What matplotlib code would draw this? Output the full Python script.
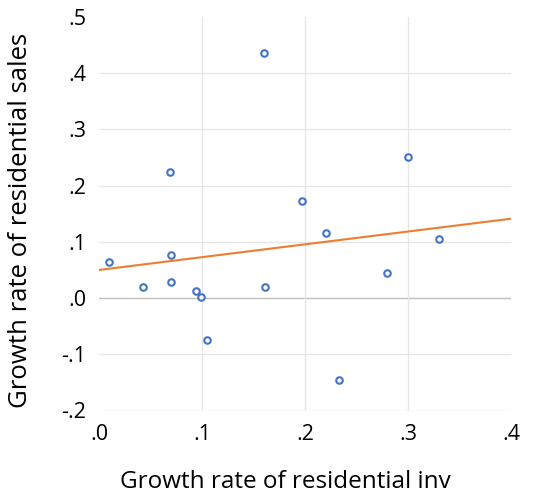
import numpy as np
import matplotlib
matplotlib.use("Agg")
import matplotlib.pyplot as plt

# Scatter data
inv_growth = [0.160, 0.069, 0.300, 0.197, 0.220, 0.330, 0.010, 0.070,
              0.043, 0.070, 0.094, 0.099, 0.105, 0.161, 0.279, 0.233]
sales_growth = [0.436, 0.224, 0.251, 0.173, 0.116, 0.105, 0.065, 0.076,
                0.019, 0.028, 0.012, 0.002, -0.074, 0.019, 0.044, -0.145]

# Fitted line (intercept, slope) as drawn
fit_intercept = 0.050
fit_slope = 0.228

x_ticks = [0.0, 0.1, 0.2, 0.3, 0.4]
x_labels = ['.0', '.1', '.2', '.3', '.4']
y_ticks = [-0.2, -0.1, 0.0, 0.1, 0.2, 0.3, 0.4, 0.5]
y_labels = ['-.2', '-.1', '.0', '.1', '.2', '.3', '.4', '.5']

plt.rcParams['font.family'] = ['Open Sans', 'DejaVu Sans']

fig = plt.figure(figsize=(5.46, 5.0), dpi=100)
ax = fig.add_axes([0.1813, 0.179, 0.755, 0.787])

# grid (no line on the outer top / right edges)
for yv in y_ticks[:-1]:
    ax.axhline(yv, color='#bfbfbf' if yv == 0 else '#e6e6e6', lw=1.0, zorder=0)
for xv in x_ticks[1:-1]:
    ax.axvline(xv, color='#e6e6e6', lw=1.0, zorder=0)

fit_x = np.array([0.0, 0.4])
ax.plot(fit_x, fit_intercept + fit_slope * fit_x, color='#ED7D31', lw=1.5, zorder=2)

ax.scatter(inv_growth, sales_growth, s=22, facecolors='white',
           edgecolors='#4472C4', linewidths=1.5, zorder=3)

ax.set_xlim(0, 0.4)
ax.set_ylim(-0.2, 0.5)
ax.set_xticks(x_ticks)
ax.set_xticklabels(x_labels)
ax.set_yticks(y_ticks)
ax.set_yticklabels(y_labels)
ax.tick_params(axis='y', length=0, labelsize=15.5, colors='#000000', pad=9)
ax.tick_params(axis='x', length=0, labelsize=15.5, colors='#000000', pad=10)
for s in ax.spines.values():
    s.set_visible(False)

ax.set_xlabel('Growth rate of residential inv', fontsize=17.5)
ax.set_ylabel('Growth rate of residential sales', fontsize=18.5)
ax.xaxis.set_label_coords(0.451, -0.152)
ax.yaxis.set_label_coords(-0.16, 0.484)

fig.savefig('out.png', dpi=100)
